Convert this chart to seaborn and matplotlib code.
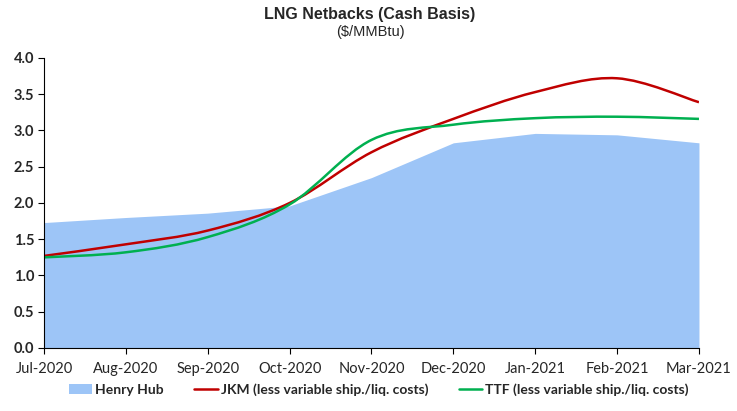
import matplotlib
matplotlib.use("Agg")
import matplotlib.pyplot as plt
from matplotlib.path import Path
from matplotlib.patches import PathPatch, Patch
from matplotlib.lines import Line2D
import numpy as np
import seaborn as sns

months = ["Jul-2020", "Aug-2020", "Sep-2020", "Oct-2020", "Nov-2020",
          "Dec-2020", "Jan-2021", "Feb-2021", "Mar-2021"]
henry_hub = [1.73, 1.80, 1.86, 1.96, 2.35, 2.83, 2.96, 2.94, 2.83]
jkm = [1.27, 1.43, 1.62, 2.00, 2.70, 3.16, 3.53, 3.72, 3.39]
ttf = [1.25, 1.32, 1.53, 1.98, 2.87, 3.08, 3.17, 3.19, 3.16]


def smooth_path(ys):
    # Excel-style smoothed line: cubic bezier between the points
    pts = np.column_stack([np.arange(len(ys)), ys]).astype(float)
    ext = np.vstack([pts[0], pts, pts[-1]])
    verts = [tuple(pts[0])]
    codes = [Path.MOVETO]
    for i in range(len(pts) - 1):
        p0, p1, p2, p3 = ext[i], ext[i + 1], ext[i + 2], ext[i + 3]
        c1 = p1 + (p2 - p0) / 6
        c2 = p2 - (p3 - p1) / 6
        verts += [tuple(c1), tuple(c2), tuple(p2)]
        codes += [Path.CURVE4] * 3
    return Path(verts, codes)


sns.set_theme(style="white")
plt.rcParams["font.family"] = ["Lato", "DejaVu Sans"]

fig = plt.figure(figsize=(7.37, 4.11), dpi=100)
ax = fig.add_axes([0.0597, 0.1533, 0.8887, 0.7056])

x = np.arange(len(months))
hh_color = "#9DC5F7"
jkm_color = "#C00000"
ttf_color = "#00B050"

ax.fill_between(x, 0, henry_hub, color=hh_color, lw=0)
ax.add_patch(PathPatch(smooth_path(jkm), fill=False, edgecolor=jkm_color, lw=1.8))
ax.add_patch(PathPatch(smooth_path(ttf), fill=False, edgecolor=ttf_color, lw=1.8))

ax.set_xlim(0, len(months) - 1)
ax.set_ylim(0, 4.0)
ax.set_yticks(np.arange(0, 4.01, 0.5))
ax.set_yticklabels([f"{v:.1f}" for v in np.arange(0, 4.01, 0.5)],
                   fontsize=10.5, fontweight="bold")
ax.set_xticks(x)
ax.set_xticklabels(months, fontsize=10.5)
ax.tick_params(axis="both", direction="out", length=4, width=0.8,
               color="black", pad=3, left=True, bottom=True)
ax.tick_params(axis="x", pad=6)
for s in ["top", "right"]:
    ax.spines[s].set_visible(False)
for s in ["left", "bottom"]:
    ax.spines[s].set_color("black")
    ax.spines[s].set_linewidth(0.8)

fig.text(0.502, 0.965, "LNG Netbacks (Cash Basis)", ha="center", va="center",
         fontsize=11.5, fontweight="bold", family="Liberation Sans")
fig.text(0.502, 0.922, "($/MMBtu)", ha="center", va="center",
         fontsize=10.5, family="Liberation Sans")

handles = [
    Patch(facecolor=hh_color, edgecolor="none"),
    Line2D([0], [0], color=jkm_color, lw=1.8),
    Line2D([0], [0], color=ttf_color, lw=1.8),
]
labels = ["Henry Hub", "JKM (less variable ship./liq. costs)",
          "TTF (less variable ship./liq. costs)"]
fig.legend(handles, labels, loc="center", bbox_to_anchor=(0.514, 0.052),
           ncol=3, frameon=False, prop={"weight": "bold", "size": 10},
           handlelength=1.7, handletextpad=0.2, columnspacing=2.2)

fig.savefig("out.png", dpi=100)
